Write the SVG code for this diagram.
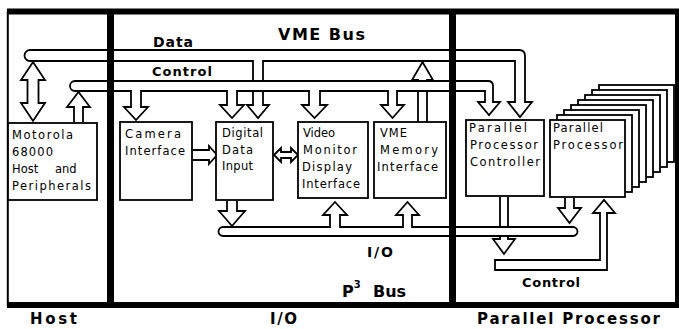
<svg xmlns="http://www.w3.org/2000/svg" width="679" height="329" viewBox="0 0 679 329">
<style>
.c{fill:#fff;stroke:#000;stroke-width:1.8;stroke-linejoin:miter}
.box{fill:#fff;stroke:#000;stroke-width:1.8}
.t{font-family:"DejaVu Sans","Liberation Sans",sans-serif;font-size:11.5px;fill:#000}
.lb{font-family:"DejaVu Sans","Liberation Sans",sans-serif;font-weight:bold;fill:#000}
.fr{stroke:#000;fill:none}
</style>
<rect width="679" height="329" fill="#fff"/>
<g id="frame" class="fr">
<line x1="7" y1="11.5" x2="679" y2="11.5" stroke-width="6"/>
<line x1="7" y1="305" x2="679" y2="305" stroke-width="6"/>
<line x1="7.8" y1="11" x2="7.8" y2="306" stroke-width="2"/>
<line x1="677" y1="11" x2="677" y2="306" stroke-width="4"/>
</g>
<g id="connectors">
<path class="c" d="M30,50 H519 Q525,50 525,56 V102 H532 L520,117 L508,102 H515 V61 H30 A5.5,5.5 0 0 1 30,50 Z"/>
<path class="c" d="M253,60 V105 H247 L258,118 L269,105 H263 V60"/>
<path class="c" d="M418,122 V80 H412 L422.5,62 L433,80 H427 V122"/>
<path class="c" d="M75,81 H488 Q493,81 493,86 V102 H500 L489,115 L478,102 H485 V91 H75 A5,5 0 0 1 75,81 Z"/>
<path class="c" d="M33,62 L45,80 H38.5 V103 H45 L33,121 L21,103 H27.5 V80 H21 Z"/>
<path class="c" d="M74,122 V107 H67 L78.5,92 L90,107 H83 V122"/>
<path class="c" d="M131,90 V107 H124 L136,120 L148,107 H141 V90"/>
<path class="c" d="M227,90 V105 H220 L232,118 L244,105 H237 V90"/>
<path class="c" d="M309,90 V105 H302 L314.5,118 L327,105 H320 V90"/>
<path class="c" d="M388,90 V105 H381 L392.5,118 L404,105 H397 V90"/>
<path class="c" d="M193,150 H209 V146 L217,155 L209,164 V160 H193"/>
<path class="c" d="M274,155 L281,148 V152 H291 V148 L298,155 L291,162 V158 H281 V162 Z"/>
<path class="c" d="M500,197 V239 H493 L504,254 L515,239 H508 V197"/>
<path class="c" d="M223,227 H573 A4.5,4.5 0 0 1 573,236 H223 A4.5,4.5 0 0 1 223,227 Z"/>
<path class="c" d="M227,201 V211 H219 L232,226 L245,211 H237 V201"/>
<path class="c" d="M330,228 V215 H323 L335,202 L347,215 H340 V228"/>
<path class="c" d="M403,228 V215 H396 L407.5,202 L419,215 H412 V228"/>
<path class="c" d="M565,198 V208 H558 L569.5,223 L581,208 H574 V198"/>
<path class="c" d="M495,260 H600 V213 H593 L604,200 L615,213 H607 V270 H495 Z"/>
</g>
<g id="host">
<rect class="box" x="8" y="123" width="89" height="77"/>
<text class="t" x="12" y="139" textLength="61">Motorola</text>
<text class="t" x="12" y="156" textLength="41">68000</text>
<text class="t" y="173"><tspan x="12">Host</tspan> <tspan x="55">and</tspan></text>
<text class="t" x="12" y="190" textLength="79">Peripherals</text>
</g>
<g id="camera">
<rect class="box" x="120" y="122" width="72" height="78"/>
<text class="t" x="125" y="138" textLength="56">Camera</text>
<text class="t" x="125" y="155" textLength="60">Interface</text>
</g>
<g id="ddi">
<rect class="box" x="216" y="122" width="57" height="78"/>
<text class="t" x="222" y="137" textLength="41">Digital</text>
<text class="t" x="222" y="154" textLength="31">Data</text>
<text class="t" x="222" y="170" textLength="31">Input</text>
</g>
<g id="video">
<rect class="box" x="298" y="122" width="70" height="76"/>
<text class="t" x="303" y="137" textLength="32">Video</text>
<text class="t" x="303" y="154" textLength="54">Monitor</text>
<text class="t" x="302" y="171" textLength="50">Display</text>
<text class="t" x="302" y="188" textLength="58">Interface</text>
</g>
<g id="vmemem">
<rect class="box" x="374" y="122" width="72" height="76"/>
<text class="t" x="380" y="137" textLength="27">VME</text>
<text class="t" x="380" y="154" textLength="58">Memory</text>
<text class="t" x="377" y="171" textLength="61">Interface</text>
</g>
<g id="ppc">
<rect class="box" x="466" y="120" width="78" height="76"/>
<text class="t" x="469" y="132" textLength="58">Parallel</text>
<text class="t" x="470" y="149" textLength="68">Processor</text>
<text class="t" x="470" y="166" textLength="70">Controller</text>
</g>
<g id="pp">
<rect class="box" x="599" y="85" width="75" height="77"/>
<rect class="box" x="592" y="90" width="75" height="77"/>
<rect class="box" x="585" y="95" width="75" height="77"/>
<rect class="box" x="578" y="100" width="75" height="77"/>
<rect class="box" x="571" y="105" width="75" height="77"/>
<rect class="box" x="564" y="110" width="75" height="77"/>
<rect class="box" x="557" y="115" width="75" height="77"/>
<rect class="box" x="550" y="120" width="75" height="77"/>
<text class="t" x="553" y="132" textLength="50">Parallel</text>
<text class="t" x="553" y="149" textLength="70">Processor</text>
</g>
<g id="dividers" class="fr">
<line x1="110.5" y1="9" x2="110.5" y2="308" stroke-width="7"/>
<line x1="452.5" y1="9" x2="452.5" y2="308" stroke-width="7"/>
</g>
<g id="labels">
<text class="lb" x="153" y="47" font-size="14" textLength="40">Data</text>
<text class="lb" x="278" y="40" font-size="16" textLength="87">VME Bus</text>
<text class="lb" x="152" y="76" font-size="13" textLength="60">Control</text>
<text class="lb" x="367" y="257" font-size="14" textLength="26">I/O</text>
<text class="lb" x="342" y="297" font-size="16">P<tspan dy="-9" font-size="10">3</tspan> <tspan x="373" dy="9">Bus</tspan></text>
<text class="lb" x="522" y="287" font-size="13" textLength="58">Control</text>
<text class="lb" x="30" y="324" font-size="15" textLength="47">Host</text>
<text class="lb" x="270" y="324" font-size="15" textLength="27">I/O</text>
<text class="lb" x="477" y="324" font-size="15" textLength="183">Parallel Processor</text>
</g>
</svg>
